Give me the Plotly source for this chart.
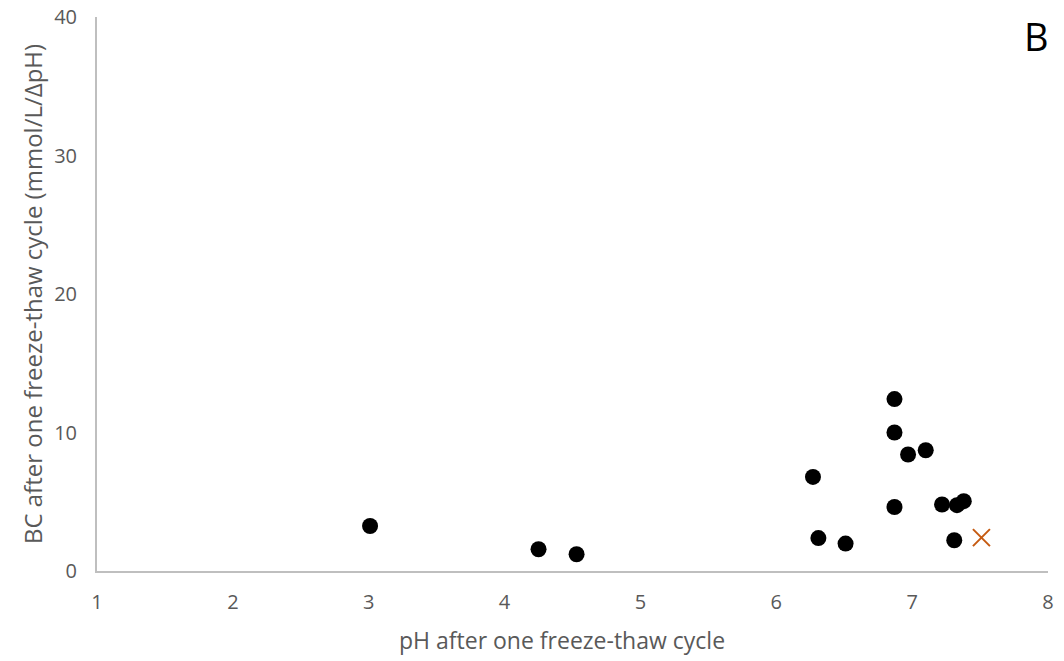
import plotly.graph_objects as go

ph = [3.01, 4.25, 4.53, 6.27, 6.31, 6.51, 6.87, 6.87, 6.97, 7.10, 6.87, 7.22, 7.33, 7.38, 7.31]
bc = [3.25, 1.57, 1.21, 6.79, 2.38, 1.98, 12.41, 10.0, 8.41, 8.72, 4.62, 4.80, 4.75, 5.04, 2.22]
ph_x = [7.51]
bc_x = [2.41]

fig = go.Figure()
fig.add_trace(go.Scatter(x=ph, y=bc, mode="markers",
                         marker=dict(color="black", size=16, symbol="circle"),
                         showlegend=False, cliponaxis=False))
fig.add_trace(go.Scatter(x=ph_x, y=bc_x, mode="markers",
                         marker=dict(color="#C55A11", size=17, symbol="x-thin",
                                     line=dict(color="#C55A11", width=2)),
                         showlegend=False, cliponaxis=False))

font_family = "Open Sans, sans-serif"
L, R, T, B = 97, 16, 17, 90
PW, PH = 1064 - L - R, 661 - T - B
fig.update_layout(
    width=1064, height=661,
    margin=dict(l=L, r=R, t=T, b=B),
    plot_bgcolor="white", paper_bgcolor="white",
    font=dict(family=font_family, color="#595959", size=20),
    xaxis=dict(range=[1, 8], tickvals=[1, 2, 3, 4, 5, 6, 7, 8],
               showgrid=False, zeroline=False, showline=True,
               linecolor="#BFBFBF", linewidth=2, ticks="", automargin=False,
               tickfont=dict(size=20, color="#595959"), ticklabelstandoff=12),
    yaxis=dict(range=[0, 40], tickvals=[0, 10, 20, 30, 40],
               showgrid=False, zeroline=False, showline=True,
               linecolor="#BFBFBF", linewidth=2, ticks="", automargin=False,
               tickfont=dict(size=20, color="#595959"), ticklabelstandoff=14,
               title=dict(text="BC after one freeze-thaw cycle (mmol/L/ΔpH)",
                          font=dict(size=24, color="#595959"), standoff=5)),
    annotations=[
        dict(text="pH after one freeze-thaw cycle", showarrow=False,
             xref="paper", yref="paper",
             x=(562 - L) / PW, y=1 - (640 - T) / PH,
             xanchor="center", yanchor="middle",
             font=dict(size=23, color="#595959", family=font_family)),
        dict(text="B", showarrow=False, xref="paper", yref="paper",
             x=(1036 - L) / PW, y=1 - (36 - T) / PH,
             xanchor="center", yanchor="middle",
             font=dict(size=38, color="black", family=font_family)),
    ],
)
fig.write_html("out.html")
